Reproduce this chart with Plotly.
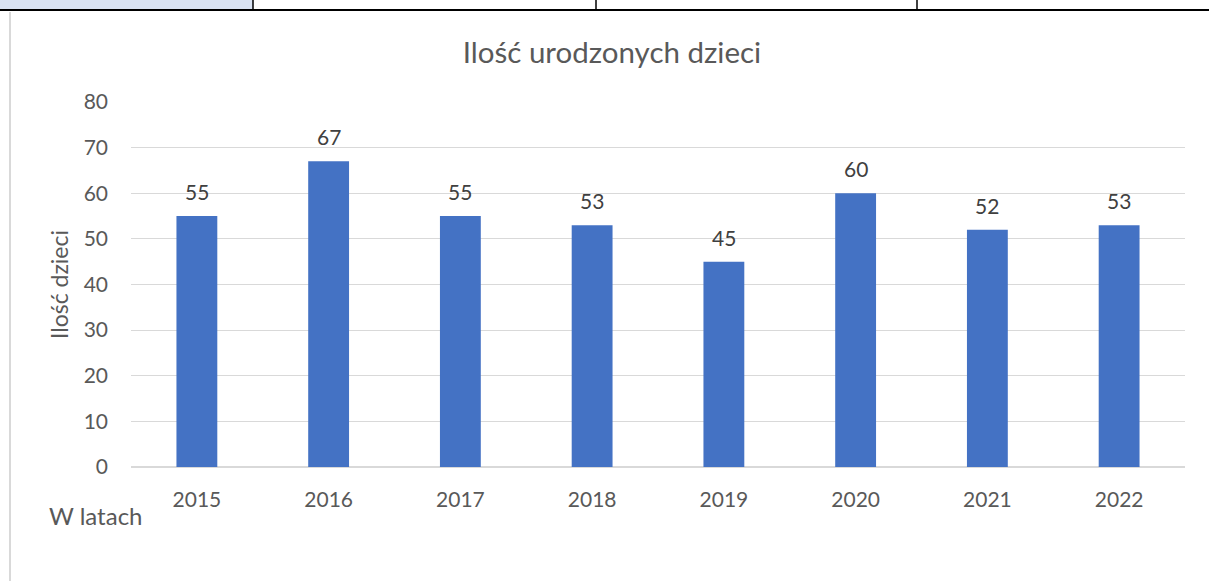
import plotly.graph_objects as go

years = ["2015", "2016", "2017", "2018", "2019", "2020", "2021", "2022"]
births = [55, 67, 55, 53, 45, 60, 52, 53]
y_ticks = [0, 10, 20, 30, 40, 50, 60, 70, 80]

W, H = 1209, 581
L, R, T, B = 131, 1185, 102, 467

def px(x):
    return (x - L) / (R - L)

def py(y):
    return (B - y) / (B - T)

FONT = "Lato, 'Open Sans', sans-serif"
GREY = "#595959"

fig = go.Figure()
fig.add_trace(go.Bar(x=years, y=births, marker_color="#4472c4", marker_line_width=0,
                     hoverinfo="x+y"))

annotations = []
for i, v in enumerate(births):
    annotations.append(dict(x=i, y=v, xref="x", yref="y", text=str(v), showarrow=False,
                            yanchor="bottom", yshift=10,
                            font=dict(family=FONT, size=21, color="#404040")))
annotations.append(dict(x=px(95.5), y=py(515), xref="paper", yref="paper", text="W latach",
                        showarrow=False, xanchor="center", yanchor="middle",
                        font=dict(family=FONT, size=24, color=GREY)))
annotations.append(dict(x=px(59), y=py(285), xref="paper", yref="paper", text="Ilość dzieci",
                        showarrow=False, textangle=-90, xanchor="center", yanchor="middle",
                        font=dict(family=FONT, size=23, color=GREY)))

shapes = [
    dict(type="rect", xref="paper", yref="paper", x0=px(0), x1=px(253), y0=py(0), y1=py(9),
         fillcolor="#dae3f3", line_width=0, layer="below"),
    dict(type="line", xref="paper", yref="paper", x0=px(0), x1=px(1209), y0=py(10), y1=py(10),
         line=dict(color="#000000", width=2)),
    dict(type="line", xref="paper", yref="paper", x0=px(253), x1=px(253), y0=py(0), y1=py(10),
         line=dict(color="#000000", width=1.5)),
    dict(type="line", xref="paper", yref="paper", x0=px(596), x1=px(596), y0=py(0), y1=py(10),
         line=dict(color="#000000", width=1.5)),
    dict(type="line", xref="paper", yref="paper", x0=px(917), x1=px(917), y0=py(0), y1=py(10),
         line=dict(color="#000000", width=1.5)),
    dict(type="line", xref="paper", yref="paper", x0=px(10), x1=px(10), y0=py(12), y1=py(581),
         line=dict(color="#d9d9d9", width=2)),
]

fig.update_layout(
    width=W, height=H,
    margin=dict(l=L, r=W - R, t=T, b=H - B, pad=0),
    paper_bgcolor="white", plot_bgcolor="white",
    bargap=0.69,
    showlegend=False,
    title=dict(text="Ilość urodzonych dzieci", x=612 / W, xref="container",
               xanchor="center", y=1 - 53 / H, yanchor="middle",
               font=dict(family=FONT, size=29.5, color=GREY)),
    xaxis=dict(type="category", showgrid=False, showline=False, zeroline=False,
               ticks="", tickfont=dict(family=FONT, size=21, color=GREY),
               ticklabelstandoff=18),
    yaxis=dict(range=[0, 80], tickvals=y_ticks, showgrid=True, gridcolor="#d9d9d9",
               gridwidth=1, zeroline=True, zerolinecolor="#d9d9d9", zerolinewidth=1.5,
               showline=False, ticks="", tickfont=dict(family=FONT, size=21, color=GREY),
               ticklabelstandoff=22),
    annotations=annotations,
    shapes=shapes,
)

fig.write_html("out.html", config={"displayModeBar": False},
               post_script="document.body.style.margin='0px';document.body.style.overflow='hidden';")
